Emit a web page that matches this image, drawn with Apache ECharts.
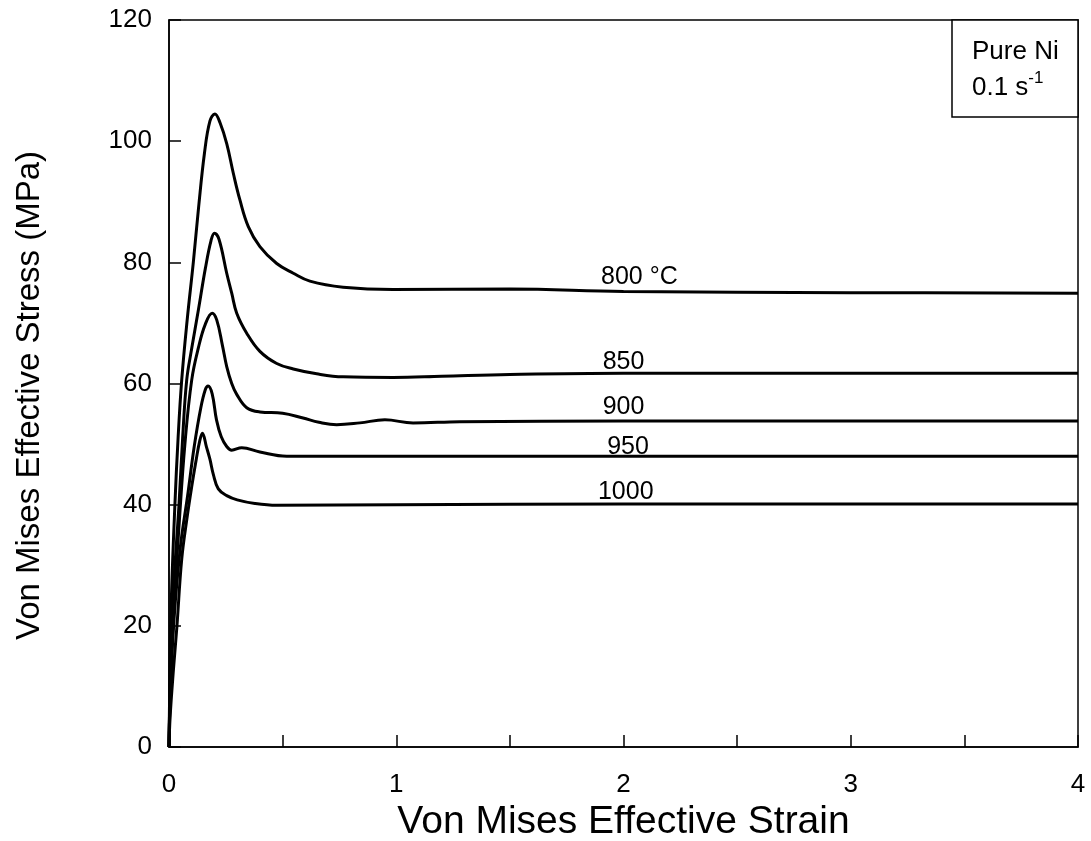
<!DOCTYPE html>
<html>
<head>
<meta charset="utf-8">
<script src="https://cdn.jsdelivr.net/npm/echarts@6/dist/echarts.min.js"></script>
<style>
  html, body { margin: 0; padding: 0; background: #fff; }
  #chart { width: 1091px; height: 841px; }
</style>
</head>
<body>
<div id="chart"></div>
<script>
// curve data (strain, stress in MPa)
var strain800 = [0, 0.004, 0.01, 0.026, 0.04, 0.056, 0.08, 0.107, 0.13, 0.156, 0.18, 0.202, 0.225, 0.254, 0.283, 0.312, 0.349, 0.4, 0.474, 0.547, 0.62, 0.766, 0.986, 1.5, 2, 3, 4];
var stress800 = [0, 12, 24, 40, 51, 60.6, 70.5, 80, 89, 98, 103.3, 104.5, 103, 99.6, 94.7, 90.3, 85.9, 82.6, 79.8, 78.2, 76.9, 75.9, 75.5, 75.6, 75.2, 75, 74.9];

var strain850 = [0, 0.005, 0.013, 0.044, 0.06, 0.078, 0.1, 0.13, 0.16, 0.185, 0.2, 0.22, 0.254, 0.276, 0.298, 0.342, 0.4, 0.474, 0.547, 0.65, 0.766, 0.986, 1.2, 1.5, 2, 3, 4];
var stress850 = [0, 11, 22, 40, 51, 60.6, 65.8, 72.3, 79, 83.6, 84.8, 83.8, 78.2, 74.9, 71.6, 68.3, 65.3, 63.3, 62.4, 61.6, 61.1, 61, 61.2, 61.5, 61.7, 61.7, 61.7];

var strain900 = [0, 0.006, 0.02, 0.045, 0.07, 0.1, 0.13, 0.16, 0.19, 0.21, 0.235, 0.254, 0.276, 0.298, 0.342, 0.4, 0.5, 0.59, 0.66, 0.738, 0.84, 0.95, 1.074, 1.28, 2, 3, 4];
var stress900 = [0, 10, 22, 37, 50, 60.6, 66, 69.8, 71.6, 70.5, 66.3, 62.8, 60, 58.2, 56, 55.3, 55.1, 54.3, 53.6, 53.2, 53.5, 54, 53.5, 53.7, 53.8, 53.8, 53.8];

var strain950 = [0, 0.006, 0.022, 0.05, 0.082, 0.111, 0.14, 0.16, 0.172, 0.19, 0.209, 0.23, 0.254, 0.276, 0.32, 0.4, 0.518, 1, 2, 3, 4];
var stress950 = [0, 9, 21, 33, 41.5, 49.6, 56, 59, 59.6, 58.3, 54, 51.2, 49.6, 49, 49.4, 48.7, 48.0, 48, 48, 48, 48];

var strain1000 = [0, 0.005, 0.02, 0.035, 0.056, 0.08, 0.1, 0.12, 0.135, 0.147, 0.165, 0.18, 0.195, 0.217, 0.254, 0.3, 0.378, 0.474, 1, 2, 3, 4];
var stress1000 = [0, 5, 13, 20, 31, 38, 43, 47.5, 50.5, 51.8, 49.5, 47.5, 45, 42.6, 41.5, 40.8, 40.2, 39.9, 40, 40.1, 40.1, 40.1];

var curveNames = ['800', '850', '900', '950', '1000'];
var labelText = ['800 °C', '850', '900', '950', '1000'];
var labelX = [2.07, 2.0, 2.0, 2.02, 2.01];
var labelY = [77.6, 63.6, 56.1, 49.5, 42.1];

var xTicks = [0, 1, 2, 3, 4];
var yTicks = [0, 20, 40, 60, 80, 100, 120];

var FONT = 'Liberation Sans, Arial, sans-serif';

function pairs(xs, ys) {
  return xs.map(function (x, i) { return [x, ys[i]]; });
}

var curves = [
  pairs(strain800, stress800),
  pairs(strain850, stress850),
  pairs(strain900, stress900),
  pairs(strain950, stress950),
  pairs(strain1000, stress1000)
];

var series = curves.map(function (d, i) {
  return {
    name: curveNames[i],
    type: 'line',
    data: d,
    showSymbol: false,
    smooth: 0.4,
    lineStyle: { color: '#000', width: 3 },
    markPoint: {
      symbol: 'circle',
      symbolSize: 1,
      itemStyle: { color: 'rgba(0,0,0,0)' },
      label: {
        show: true,
        position: 'inside',
        color: '#000',
        fontSize: 25,
        fontFamily: FONT,
        formatter: labelText[i]
      },
      data: [{ coord: [labelX[i], labelY[i]] }]
    }
  };
});

var myChart = echarts.init(document.getElementById('chart'));
myChart.setOption({
  animation: false,
  backgroundColor: '#fff',
  grid: {
    left: 169, right: 13, top: 20, bottom: 94,
    outerBoundsMode: 'none',
    show: true, borderColor: '#000', borderWidth: 1.5
  },
  xAxis: {
    type: 'value',
    min: 0, max: 4, interval: 0.5,
    name: 'Von Mises Effective Strain',
    nameLocation: 'middle',
    nameGap: 50,
    nameTextStyle: { fontSize: 39, color: '#000', fontFamily: FONT },
    axisLine: { lineStyle: { color: '#000', width: 1.5 } },
    axisTick: { inside: true, length: 12, lineStyle: { color: '#000', width: 1.5 } },
    axisLabel: {
      fontSize: 26, color: '#000', fontFamily: FONT, margin: 25,
      formatter: function (v) { return xTicks.indexOf(v) >= 0 ? String(v) : ''; }
    },
    splitLine: { show: false }
  },
  yAxis: {
    type: 'value',
    min: 0, max: 120, interval: 20,
    name: 'Von Mises Effective Stress (MPa)',
    nameLocation: 'middle',
    nameGap: 123,
    nameTextStyle: { fontSize: 33, color: '#000', fontFamily: FONT, padding: [0, 24, 0, 0] },
    axisLine: { lineStyle: { color: '#000', width: 1.5 } },
    axisTick: { inside: true, length: 12, lineStyle: { color: '#000', width: 1.5 } },
    axisLabel: {
      fontSize: 26, color: '#000', fontFamily: FONT, margin: 17, padding: [5, 0, 0, 0],
      formatter: function (v) { return yTicks.indexOf(v) >= 0 ? String(v) : ''; }
    },
    splitLine: { show: false }
  },
  graphic: [
    {
      type: 'rect',
      shape: { x: 952, y: 20, width: 126, height: 97 },
      style: { fill: '#fff', stroke: '#000', lineWidth: 1.5 },
      z: 10
    },
    {
      type: 'text',
      left: 972, top: 34,
      z: 11,
      style: {
        text: 'Pure Ni\n0.1 s{sup|-1}',
        fill: '#000',
        font: '26px ' + FONT,
        lineHeight: 36,
        rich: {
          sup: { fontSize: 17, fontFamily: FONT, verticalAlign: 'top', lineHeight: 36, padding: [0, 0, 14, 0] }
        }
      }
    }
  ],
  series: series
});
window.addEventListener('resize', function () { myChart.resize(); });
</script>
</body>
</html>
